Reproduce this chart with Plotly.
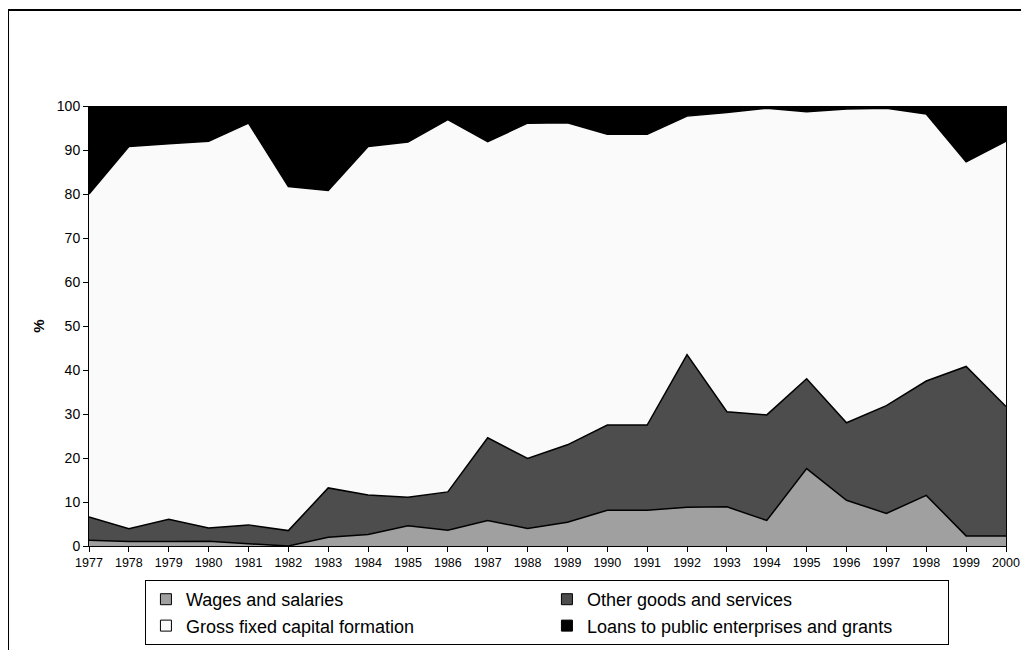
import plotly.graph_objects as go

years = list(range(1977, 2001))

wages = [1.3, 1.0, 1.0, 1.1, 0.5, 0.0, 2.0, 2.6, 4.6, 3.6, 5.8, 4.0,
         5.4, 8.1, 8.1, 8.8, 8.9, 5.8, 17.6, 10.4, 7.4, 11.5, 2.3, 2.3]
other_goods = [5.3, 2.9, 5.1, 3.0, 4.3, 3.5, 11.2, 9.0, 6.5, 8.7, 18.8, 15.9,
               17.6, 19.4, 19.4, 34.7, 21.6, 24.0, 20.4, 17.6, 24.5, 26.0, 38.5, 29.4]
gfcf = [73.4, 86.9, 85.3, 87.9, 91.3, 78.2, 67.6, 79.2, 80.7, 84.6, 67.3, 76.2,
        73.2, 66.1, 66.1, 54.2, 68.0, 69.7, 60.7, 71.3, 67.6, 60.7, 46.5, 60.3]
loans = [20.0, 9.2, 8.6, 8.0, 3.9, 18.3, 19.2, 9.2, 8.2, 3.1, 8.1, 3.9,
         3.8, 6.4, 6.4, 2.3, 1.5, 0.5, 1.3, 0.7, 0.5, 1.8, 12.7, 8.0]

series_names = ["Wages and salaries", "Other goods and services",
                "Gross fixed capital formation", "Loans to public enterprises and grants"]
series_values = [wages, other_goods, gfcf, loans]
fill_colors = ["#A0A0A0", "#4D4D4D", "#FAFAFA", "#000000"]

y_ticks = list(range(0, 101, 10))

fig = go.Figure()
# stacked areas
for name, vals, col in zip(series_names, series_values, fill_colors):
    fig.add_trace(go.Scatter(
        x=years, y=vals, name=name, mode="lines",
        stackgroup="one", fillcolor=col,
        line=dict(color="#000000", width=1.5),
        hoverinfo="x+y+name", showlegend=False, legendgroup=name,
    ))
# legend keys (square swatches, as in the original)
for name, col in zip(series_names, fill_colors):
    fig.add_trace(go.Scatter(
        x=[None], y=[None], name=name, mode="markers",
        marker=dict(symbol="square", size=11, color=col,
                    line=dict(color="#000000", width=1)),
        showlegend=True, legendgroup=name, hoverinfo="skip",
    ))

fig.update_layout(
    width=1029, height=650,
    margin=dict(l=81, r=31, t=98, b=112, autoexpand=False),
    paper_bgcolor="white", plot_bgcolor="white",
    font=dict(family="Liberation Sans, Arial, sans-serif", color="#000000"),
    showlegend=True,
    legend=dict(
        orientation="h", traceorder="normal",
        x=0.061, y=-0.0773, xanchor="left", yanchor="top",
        bgcolor="white", bordercolor="#000000", borderwidth=1,
        font=dict(size=18), entrywidth=356, entrywidthmode="pixels",
        itemwidth=30,
    ),
    xaxis=dict(
        range=[1977, 2000], tickmode="array", tickvals=years,
        ticktext=[str(y) for y in years],
        ticks="outside", ticklen=5, tickcolor="#000000",
        showline=True, linecolor="#000000", linewidth=1,
        showgrid=False, zeroline=False,
        tickfont=dict(size=12.5),
    ),
    yaxis=dict(
        range=[0, 100], tickmode="array", tickvals=y_ticks,
        ticks="outside", ticklen=5, tickcolor="#000000",
        showline=True, linecolor="#000000", linewidth=1, mirror=True,
        showgrid=False, zeroline=False,
        tickfont=dict(size=14),
        title=dict(text="<b>%</b>", font=dict(size=15), standoff=8),
    ),
    shapes=[
        dict(type="line", xref="paper", yref="paper",
             x0=-0.0883, y0=1.218, x1=1.1, y1=1.218,
             line=dict(color="#000000", width=2)),
        dict(type="line", xref="paper", yref="paper",
             x0=-0.0883, y0=1.218, x1=-0.0883, y1=-0.3,
             line=dict(color="#000000", width=2)),
    ],
)

fig.write_html("out.html")
